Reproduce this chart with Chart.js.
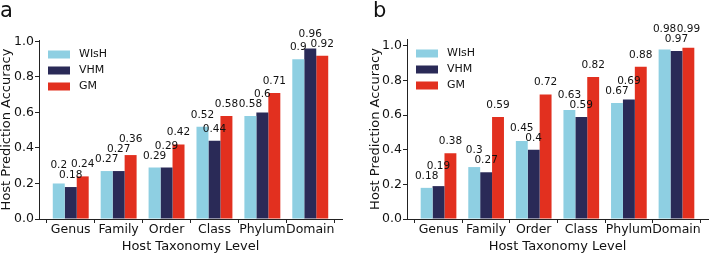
<!DOCTYPE html>
<html>
<head>
<meta charset="utf-8">
<script src="https://cdn.jsdelivr.net/npm/chart.js@4.4.1/dist/chart.umd.min.js"></script>
<style>
  body { margin: 0; background: #fff; }
  #wrap { position: relative; width: 709px; height: 253px; font-family: "DejaVu Sans"; }
  .panel { position: absolute; top: 0; }
  .tag { position: absolute; top: 0; font-size: 21px; line-height: 1; color: #111; }
</style>
</head>
<body>
<div id="wrap">
  <canvas id="chartA" class="panel" style="left:0" width="355" height="253"></canvas>
  <canvas id="chartB" class="panel" style="left:355px" width="354" height="253"></canvas>
  <div class="tag" style="left:0">a</div>
  <div class="tag" style="left:373px">b</div>
</div>
<script>
// taxonomy levels and methods
const levels = ["Genus", "Family", "Order", "Class", "Phylum", "Domain"];
const methods = ["WIsH", "VHM", "GM"];
const colors = ["#8ecfe2", "#2a2a57", "#e2301f"];

// panel a
const wishA = [0.2, 0.27, 0.29, 0.52, 0.58, 0.9];
const vhmA = [0.18, 0.27, 0.29, 0.44, 0.6, 0.96];
const gmA = [0.24, 0.36, 0.42, 0.58, 0.71, 0.92];

// panel b
const wishB = [0.18, 0.3, 0.45, 0.63, 0.67, 0.98];
const vhmB = [0.19, 0.27, 0.4, 0.59, 0.69, 0.97];
const gmB = [0.38, 0.59, 0.72, 0.82, 0.88, 0.99];

Chart.defaults.font.family = '"DejaVu Sans"';
Chart.defaults.color = "#111";

// value labels above bars, pushed up when they collide
const barLabels = {
  id: "barLabels",
  afterDatasetsDraw(chart) {
    const ctx = chart.ctx;
    ctx.save();
    ctx.font = '10.5px "DejaVu Sans"';
    ctx.fillStyle = "#111";
    ctx.textAlign = "center";
    ctx.textBaseline = "alphabetic";
    const items = [];
    chart.data.datasets.forEach((ds, di) => {
      chart.getDatasetMeta(di).data.forEach((bar, i) => {
        const v = ds.data[i].y;
        const text = String(v);
        items.push({ text, v, x: bar.x, w: ctx.measureText(text).width, bottom: bar.y - 9 });
      });
    });
    items.sort((p, q) => p.v - q.v);
    const h = 9;
    const placed = [];
    items.forEach(it => {
      let moved = true;
      while (moved) {
        moved = false;
        for (const p of placed) {
          const xo = Math.abs(it.x - p.x) < (it.w + p.w) / 2;
          const yo = it.bottom > p.bottom - h - 1 && it.bottom - h - 1 < p.bottom;
          if (xo && yo) { it.bottom = p.bottom - h - 1; moved = true; }
        }
      }
      placed.push(it);
      ctx.fillText(it.text, it.x, it.bottom);
    });
    ctx.restore();
  }
};

const legendBox = {
  id: "legendBox",
  afterDraw(chart) {
    const { ctx, chartArea } = chart;
    ctx.save();
    ctx.font = '11px "DejaVu Sans"';
    ctx.textBaseline = "middle";
    ctx.textAlign = "left";
    chart.data.datasets.forEach((ds, i) => {
      const x = chartArea.left + 9;
      const y = chartArea.top + 14.5 + i * 16;
      ctx.fillStyle = ds.backgroundColor;
      ctx.fillRect(x, y - 4, 22, 8);
      ctx.fillStyle = "#111";
      ctx.fillText(ds.label, x + 31, y);
    });
    ctx.restore();
  }
};

function makeChart(id, series, ymax, yw, pad, titlePad) {
  new Chart(document.getElementById(id), {
    type: "bar",
    data: {
      datasets: series.map((vals, k) => ({
        label: methods[k],
        data: vals.map((v, i) => ({ x: i, y: v })),
        backgroundColor: colors[k],
        borderWidth: 0,
        categoryPercentage: 0.75,
        barPercentage: 1.0
      }))
    },
    options: {
      responsive: false,
      animation: false,
      layout: { padding: pad },
      plugins: { legend: { display: false }, tooltip: { enabled: false } },
      scales: {
        x: {
          type: "linear",
          offset: false,
          min: -0.6625,
          max: 5.6625,
          afterBuildTicks: axis => { axis.ticks = levels.map((_, i) => ({ value: i })); },
          afterFit: s => { s.height = 34; },
          ticks: { callback: v => levels[v], font: { size: 12.5 }, padding: -1, maxRotation: 0, autoSkip: false },
          grid: { drawOnChartArea: false, tickLength: 4, color: "#222" },
          border: { color: "#222", width: 1 },
          title: { display: true, text: "Host Taxonomy Level", font: { size: 13, lineHeight: 1 }, padding: 0 }
        },
        y: {
          min: 0,
          max: ymax,
          afterFit: s => { s.width = yw; },
          ticks: { stepSize: 0.2, includeBounds: false, callback: v => v.toFixed(1), font: { size: 12.5 }, padding: 1 },
          grid: { drawOnChartArea: false, tickLength: 4, color: "#222" },
          border: { color: "#222", width: 1 },
          title: { display: true, text: "Host Prediction Accuracy", font: { size: 13, lineHeight: 1 }, padding: { top: titlePad, bottom: 0 } }
        }
      }
    },
    plugins: [barLabels, legendBox]
  });
}

makeChart("chartA", [wishA, vhmA, gmA], 1.008, 39, { top: 40, right: 13, left: 0, bottom: 0 }, 0);
makeChart("chartB", [wishB, vhmB, gmB], 1.04, 52, { top: 39, right: 1, left: 0, bottom: 0 }, 14);
</script>
</body>
</html>
